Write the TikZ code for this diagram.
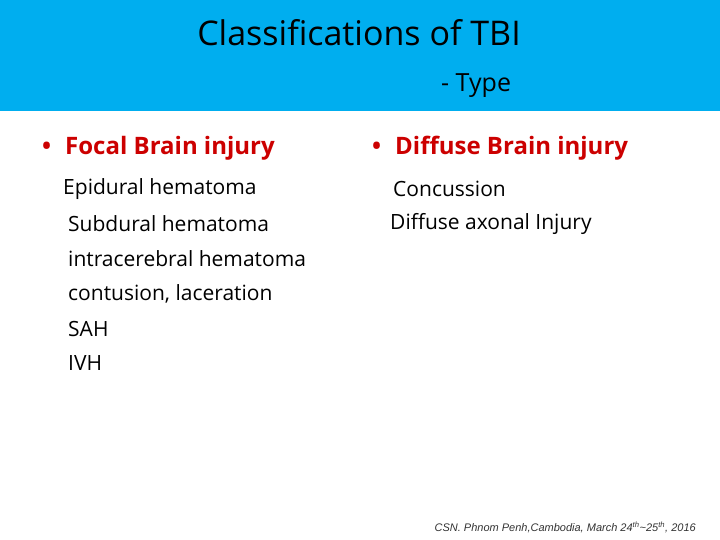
\documentclass[tikz,border=0pt]{standalone}
\usepackage{fontspec}
\setmainfont{Open Sans}
\newfontfamily\footfont{Liberation Sans}
\definecolor{hdr}{RGB}{0,174,239}
\definecolor{red1}{RGB}{204,0,0}
\begin{document}
\begin{tikzpicture}[x=1pt,y=-1pt,
  body/.style={anchor=west,inner sep=0,font=\fontsize{21}{25}\selectfont},
  head/.style={anchor=west,inner sep=0,font=\fontsize{24}{28}\selectfont\bfseries,text=red1}]
\useasboundingbox (0,0) rectangle (720,540);
\fill[hdr] (0,0) rectangle (720,111) coordinate (hb);
\node[inner sep=0,font=\fontsize{34}{40}\selectfont] (title) at (359,33) {Classifications of TBI};
\node[inner sep=0,anchor=west,font=\fontsize{25}{30}\selectfont] (type) at (441,86) {- Type};
\node[head] (f) at (42,148) {\textbullet\hspace{14pt}Focal Brain injury};
\node[head] (d) at (372,148) {\textbullet\hspace{14pt}Diffuse Brain injury};
\node[body] (f1) at (63,189) {Epidural hematoma};
\node[body] (f2) at (68,224) {Subdural hematoma};
\node[body] (f3) at (68,259) {intracerebral hematoma};
\node[body] (f4) at (68,294) {contusion, laceration};
\node[body] (f5) at (68,329) {SAH};
\node[body] (f6) at (68,363) {IVH};
\node[body] (d1) at (393,189) {Concussion};
\node[body] (d2) at (390,224) {Diffuse axonal Injury};
\node[anchor=east,inner sep=0,font=\footfont\fontsize{11}{13}\selectfont\itshape,text=black!80] (foot) at (696,527) {CSN. Phnom Penh,Cambodia, March 24\textsuperscript{th}\textasciitilde25\textsuperscript{th}, 2016};
\end{tikzpicture}
\end{document}
